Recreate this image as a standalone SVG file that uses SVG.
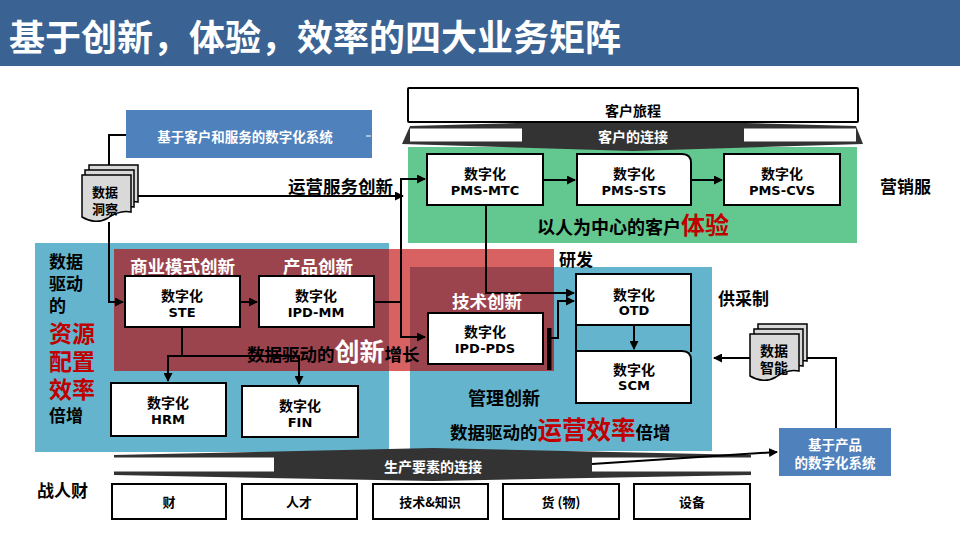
<svg xmlns="http://www.w3.org/2000/svg" width="960" height="540" viewBox="0 0 960 540">
<defs>
<style>
.cjk{font-family:"Noto Sans CJK SC","Liberation Sans",sans-serif;font-weight:bold}
.lat{font-family:"DejaVu Sans","Liberation Sans",sans-serif;font-weight:bold;font-size:13px}
.box{fill:#fff;stroke:#000;stroke-width:2}
.ln{fill:none;stroke:#000;stroke-width:2}
.bt{font-size:14px;text-anchor:middle}
.w{fill:#fff}
.r{fill:#c00000}
.page{fill:#d9d9d9;stroke:#000;stroke-width:1.5}
</style>
<marker id="ah" markerUnits="userSpaceOnUse" markerWidth="9" markerHeight="9" refX="8" refY="4.5" orient="auto">
<path d="M0,0 L9,4.5 L0,9 z" fill="#000"/>
</marker>
<path id="pg" d="M0,0 H49 V37 C40,35 33,38 26,43 C18,48 8,47 0,42 Z"/>
</defs>

<!-- title -->
<rect x="0" y="0" width="960" height="66" fill="#3a6393"/>
<text x="9" y="51" class="cjk w" font-size="36" font-weight="900">基于创新，体验，效率的四大业务矩阵</text>

<!-- background regions -->
<rect x="408" y="147" width="449" height="96" fill="#62c88f"/>
<rect x="35" y="243" width="354" height="209" fill="#63b4cc"/>
<rect x="410" y="267" width="302" height="184" fill="#63b4cc"/>
<rect x="114" y="249" width="440" height="122" fill="#c00000" opacity="0.62"/>

<!-- top band -->
<g id="customer-journey">
<polygon points="410,126 633,120 856,126 863,144 633,151 402,144" fill="#333"/>
<rect x="410" y="128.5" width="112" height="13" fill="#fff"/>
<rect x="744" y="128.5" width="112" height="13" fill="#fff"/>
<rect x="408" y="88" width="450" height="34" fill="#fff" stroke="#000" stroke-width="2" rx="1"/>
<text x="633" y="116" class="cjk" font-size="14" text-anchor="middle">客户旅程</text>
<text x="633" y="142" class="cjk w" font-size="14" text-anchor="middle">客户的连接</text>
</g>

<!-- bottom band -->
<g id="production-band">
<polygon points="114,455 433,448 751,455 751,475 433,481 114,475" fill="#333"/>
<rect x="114" y="457.5" width="160" height="14" fill="#fff"/>
<rect x="592" y="457.5" width="159" height="14" fill="#fff"/>
<text x="433" y="472" class="cjk w" font-size="14" text-anchor="middle">生产要素的连接</text>
</g>

<!-- connectors -->
<g id="connectors">
<polyline class="ln" points="126,135 109,135 109,168"/>
<polyline class="ln" points="109,222 109,302 123,302" marker-end="url(#ah)"/>
<line class="ln" x1="136" y1="196" x2="403" y2="196" marker-end="url(#ah)"/>
<line class="ln" x1="401" y1="179" x2="401" y2="338"/>
<line class="ln" x1="400" y1="179" x2="425" y2="179" marker-end="url(#ah)"/>
<line class="ln" x1="400" y1="337" x2="425" y2="337" marker-end="url(#ah)"/>
<line class="ln" x1="374" y1="302" x2="401" y2="302"/>
<line class="ln" x1="240" y1="302" x2="257" y2="302" marker-end="url(#ah)"/>
<line class="ln" x1="182" y1="327" x2="182" y2="356"/>
<line class="ln" x1="167" y1="356" x2="300" y2="356"/>
<line class="ln" x1="168" y1="355" x2="168" y2="381" marker-end="url(#ah)"/>
<line class="ln" x1="299" y1="355" x2="299" y2="384" marker-end="url(#ah)"/>
<line class="ln" x1="543" y1="180" x2="575" y2="180" marker-end="url(#ah)"/>
<line class="ln" x1="691" y1="180" x2="722" y2="180" marker-end="url(#ah)"/>
<polyline class="ln" points="486,205 486,293 574,293" marker-end="url(#ah)"/>
<polyline class="ln" points="551,338 558,338 558,301 574,301" marker-end="url(#ah)"/>
<rect x="547" y="328" width="4.5" height="42" fill="#000"/>
<line class="ln" x1="634" y1="325" x2="634" y2="349" marker-end="url(#ah)"/>
<line class="ln" x1="750" y1="358" x2="714" y2="358" marker-end="url(#ah)"/>
<polyline class="ln" points="806,358 836,358 836,428"/>
<line class="ln" x1="592" y1="464" x2="777" y2="452" marker-end="url(#ah)"/>
</g>

<!-- top blue system box -->
<g id="sys-customer">
<rect x="126" y="110" width="246" height="48" fill="#4f81bd"/>
<line x1="366" y1="136" x2="371" y2="136" stroke="#fff" stroke-width="1"/>
<text x="245" y="142" class="cjk w" font-size="13.5" text-anchor="middle">基于客户和服务的数字化系统</text>
</g>

<!-- data insight doc -->
<g id="doc-insight">
<use href="#pg" x="89" y="165" class="page"/>
<use href="#pg" x="85" y="170" class="page"/>
<use href="#pg" x="82" y="175" class="page"/>
<text class="cjk" font-size="13" font-weight="normal" text-anchor="middle"><tspan x="105" y="197">数据</tspan><tspan x="105" y="214">洞察</tspan></text>
</g>

<text x="288" y="193" class="cjk" font-size="17.5">运营服务创新</text>

<!-- marketing row -->
<g id="pms-mtc">
<rect class="box" x="427" y="154" width="116" height="51"/>
<text class="cjk bt"><tspan x="485" y="179">数字化</tspan><tspan x="485" y="195" class="lat">PMS-MTC</tspan></text>
</g>
<g id="pms-sts">
<path class="box" d="M577,154 H682 Q691,154 691,163 V205 H577 Z"/>
<text class="cjk bt"><tspan x="634" y="179">数字化</tspan><tspan x="634" y="195" class="lat">PMS-STS</tspan></text>
</g>
<g id="pms-cvs">
<rect class="box" x="724" y="154" width="116" height="51"/>
<text class="cjk bt"><tspan x="782" y="179">数字化</tspan><tspan x="782" y="195" class="lat">PMS-CVS</tspan></text>
</g>
<text x="880" y="193" class="cjk" font-size="17">营销服</text>
<text x="537" y="234" class="cjk" font-size="18">以人为中心的客户<tspan class="r" font-size="24">体验</tspan></text>

<!-- left label column -->
<text id="left-label" class="cjk" font-size="17"><tspan x="49" y="268">数据</tspan><tspan x="49" y="290">驱动</tspan><tspan x="49" y="312">的</tspan><tspan x="49" y="342" font-size="23" class="r">资源</tspan><tspan x="49" y="370" font-size="23" class="r">配置</tspan><tspan x="49" y="398" font-size="23" class="r">效率</tspan><tspan x="49" y="422">倍增</tspan></text>

<text x="130" y="273" class="cjk w" font-size="17.5">商业模式创新</text>
<text x="283" y="273" class="cjk w" font-size="17.5">产品创新</text>

<g id="ste">
<rect class="box" x="125" y="276" width="115" height="51"/>
<text class="cjk bt"><tspan x="182" y="301">数字化</tspan><tspan x="182" y="317" class="lat">STE</tspan></text>
</g>
<g id="ipd-mm">
<rect class="box" x="259" y="276" width="115" height="51"/>
<text class="cjk bt"><tspan x="316" y="301">数字化</tspan><tspan x="316" y="317" class="lat">IPD-MM</tspan></text>
</g>
<text x="247" y="361" class="cjk" font-size="17.5">数据驱动的<tspan class="w" font-size="25">创新</tspan>增长</text>

<g id="hrm">
<rect class="box" x="111" y="383" width="115" height="53"/>
<text class="cjk bt"><tspan x="168" y="408">数字化</tspan><tspan x="168" y="424" class="lat">HRM</tspan></text>
</g>
<g id="fin">
<rect class="box" x="242" y="386" width="116" height="51"/>
<text class="cjk bt"><tspan x="300" y="411">数字化</tspan><tspan x="300" y="427" class="lat">FIN</tspan></text>
</g>

<!-- R&D / supply -->
<text x="559" y="266" class="cjk" font-size="17">研发</text>
<text x="452" y="308" class="cjk w" font-size="17.5">技术创新</text>
<g id="ipd-pds">
<rect class="box" x="428" y="313" width="115" height="51"/>
<text class="cjk bt"><tspan x="485" y="337">数字化</tspan><tspan x="485" y="353" class="lat">IPD-PDS</tspan></text>
</g>
<g id="otd">
<rect class="box" x="576" y="274" width="115" height="51"/>
<line class="ln" x1="576" y1="325" x2="576" y2="351"/>
<line class="ln" x1="691" y1="325" x2="691" y2="352"/>
<text class="cjk bt"><tspan x="634" y="300">数字化</tspan><tspan x="634" y="315" class="lat">OTD</tspan></text>
</g>
<g id="scm">
<path class="box" d="M576,351 H682 Q691,351 691,360 V403 H576 Z"/>
<text class="cjk bt"><tspan x="634" y="375">数字化</tspan><tspan x="634" y="390" class="lat">SCM</tspan></text>
</g>
<text x="718" y="305" class="cjk" font-size="17">供采制</text>
<text x="468" y="405" class="cjk" font-size="18">管理创新</text>
<text x="450" y="439" class="cjk" font-size="17.5">数据驱动的<tspan class="r" font-size="24.5">运营效率</tspan>倍增</text>

<!-- data intelligence doc -->
<g id="doc-intel">
<use href="#pg" x="758" y="324" class="page"/>
<use href="#pg" x="754" y="329" class="page"/>
<use href="#pg" x="750" y="334" class="page"/>
<text class="cjk" font-size="14" font-weight="normal" text-anchor="middle"><tspan x="774" y="356">数据</tspan><tspan x="774" y="373">智能</tspan></text>
</g>

<g id="sys-product">
<rect x="779" y="428" width="112" height="48" fill="#4f81bd"/>
<text class="cjk w" font-size="13.5" text-anchor="middle"><tspan x="835" y="450">基于产品</tspan><tspan x="835" y="468">的数字化系统</tspan></text>
</g>

<!-- bottom resources -->
<text x="37" y="497" class="cjk" font-size="17">战人财</text>
<g id="res-cai"><rect class="box" x="112" y="484" width="114" height="35"/><text x="169" y="507" class="cjk" font-size="13" font-weight="normal" text-anchor="middle">财</text></g>
<g id="res-rencai"><rect class="box" x="242" y="484" width="115" height="35"/><text x="299" y="507" class="cjk" font-size="13" font-weight="normal" text-anchor="middle">人才</text></g>
<g id="res-tech"><rect class="box" x="373" y="484" width="115" height="35"/><text x="430" y="507" class="cjk" font-size="13" font-weight="normal" text-anchor="middle">技术&amp;知识</text></g>
<g id="res-goods"><rect class="box" x="503" y="484" width="116" height="35"/><text x="561" y="507" class="cjk" font-size="13" font-weight="normal" text-anchor="middle">货 (物)</text></g>
<g id="res-equip"><rect class="box" x="634" y="484" width="116" height="35"/><text x="692" y="507" class="cjk" font-size="13" font-weight="normal" text-anchor="middle">设备</text></g>
</svg>
